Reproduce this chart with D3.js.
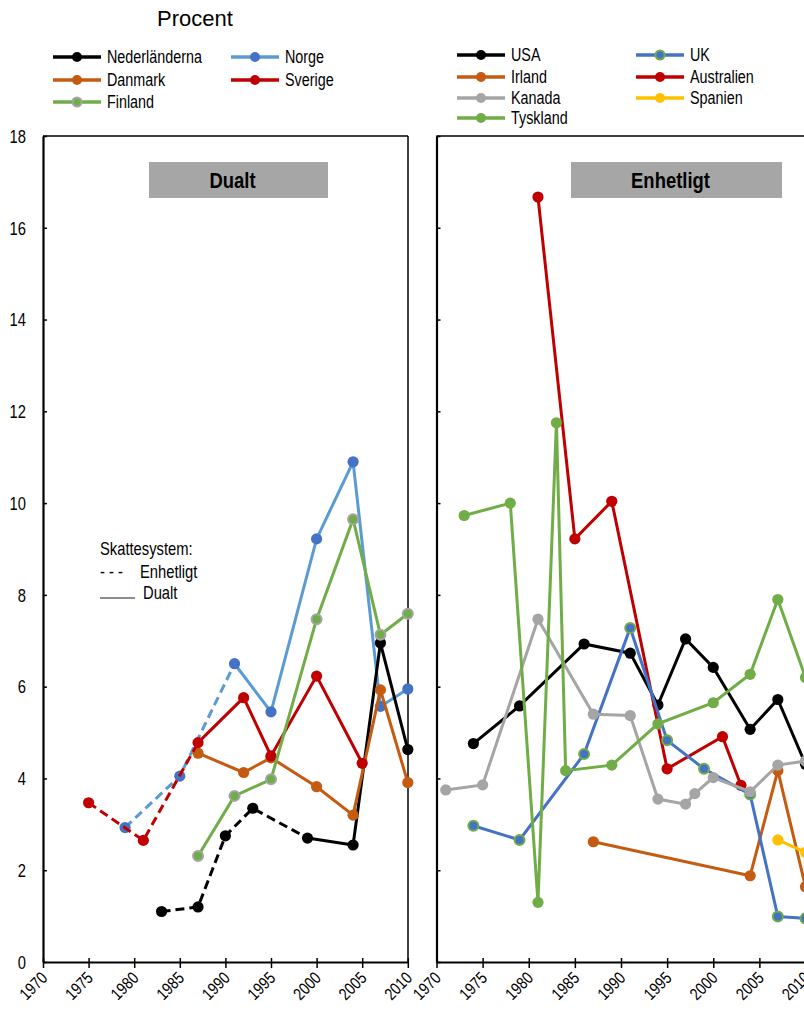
<!DOCTYPE html>
<html>
<head>
<meta charset="utf-8">
<script src="https://cdn.jsdelivr.net/npm/d3@7"></script>
<style>
  html, body { margin: 0; padding: 0; background: #fff; }
  svg { display: block; }
  text { font-family: "Liberation Sans", Arial, sans-serif; fill: #000; }
</style>
</head>
<body>
<svg id="chart" width="804" height="1012"></svg>
<script>
// ---------- DATA ----------
const yTicks = [0, 2, 4, 6, 8, 10, 12, 14, 16, 18];
const xTicks = [1970, 1975, 1980, 1985, 1990, 1995, 2000, 2005, 2010];

// Left panel ("Dualt")
const nedYears   = [1983, 1987, 1990, 1993, 1999, 2004, 2007, 2010];
const nedValues  = [1.1, 1.2, 2.75, 3.35, 2.7, 2.55, 6.95, 4.63];
const nedDashTo  = 1999;

const norYears   = [1979, 1985, 1991, 1995, 2000, 2004, 2007, 2010];
const norValues  = [2.93, 4.05, 6.5, 5.45, 9.22, 10.9, 5.57, 5.95];
const norDashTo  = 1991;

const dkYears    = [1987, 1992, 1995, 2000, 2004, 2007, 2010];
const dkValues   = [4.55, 4.13, 4.45, 3.82, 3.2, 5.93, 3.91];

const seYears    = [1975, 1981, 1987, 1992, 1995, 2000, 2005];
const seValues   = [3.47, 2.65, 4.78, 5.76, 4.49, 6.23, 4.33];
const seDashTo   = 1987;

const fiYears    = [1987, 1991, 1995, 2000, 2004, 2007, 2010];
const fiValues   = [2.31, 3.62, 3.98, 7.47, 9.65, 7.13, 7.59];

// Right panel ("Enhetligt")
const usaYears   = [1974, 1979, 1986, 1991, 1994, 1997, 2000, 2004, 2007, 2010];
const usaValues  = [4.76, 5.58, 6.93, 6.73, 5.6, 7.04, 6.42, 5.07, 5.72, 4.31];

const ukYears    = [1974, 1979, 1986, 1991, 1995, 1999, 2004, 2007, 2010];
const ukValues   = [2.97, 2.66, 4.53, 7.28, 4.83, 4.21, 3.65, 0.99, 0.95];

const ieYears    = [1987, 2004, 2007, 2010];
const ieValues   = [2.62, 1.88, 4.17, 1.64];

const auYears    = [1981, 1985, 1989, 1995, 2001, 2003];
const auValues   = [16.67, 9.22, 10.04, 4.21, 4.91, 3.85];

const caYears    = [1971, 1975, 1981, 1987, 1991, 1994, 1997, 1998, 2000, 2004, 2007, 2010];
const caValues   = [3.75, 3.86, 7.47, 5.4, 5.37, 3.55, 3.44, 3.67, 4.02, 3.71, 4.29, 4.38];

const esYears    = [2007, 2010];
const esValues   = [2.66, 2.39];

const deYears    = [1973, 1978, 1981, 1983, 1984, 1989, 1994, 2000, 2004, 2007, 2010];
const deValues   = [9.73, 10.0, 1.3, 11.75, 4.17, 4.29, 5.19, 5.65, 6.27, 7.9, 6.2];

// Colours
const C = {
  black: "#000000", lightBlue: "#5B9BD5", blue: "#4472C4", orange: "#C55A11",
  red: "#C00000", green: "#70AD47", grey: "#A5A5A5", yellow: "#FFC000"
};

// ---------- SERIES DEFINITIONS ----------
function zip(ys, vs) { return ys.map((y, i) => ({ year: y, v: vs[i] })); }

const leftSeries = [
  { name: "Norge",         data: zip(norYears, norValues), line: C.lightBlue, dot: C.blue,  stroke: null,   dashTo: norDashTo },
  { name: "Nederländerna", data: zip(nedYears, nedValues), line: C.black,     dot: C.black, stroke: null,   dashTo: nedDashTo },
  { name: "Danmark",       data: zip(dkYears, dkValues),   line: C.orange,    dot: C.orange, stroke: null,  dashTo: null },
  { name: "Sverige",       data: zip(seYears, seValues),   line: C.red,       dot: C.red,   stroke: null,   dashTo: seDashTo },
  { name: "Finland",       data: zip(fiYears, fiValues),   line: C.green,     dot: C.green, stroke: C.grey, dashTo: null }
];

const rightSeries = [
  { name: "USA",        data: zip(usaYears, usaValues), line: C.black,  dot: C.black,  stroke: null },
  { name: "Irland",     data: zip(ieYears, ieValues),   line: C.orange, dot: C.orange, stroke: null },
  { name: "Australien", data: zip(auYears, auValues),   line: C.red,    dot: C.red,    stroke: null },
  { name: "UK",         data: zip(ukYears, ukValues),   line: C.blue,   dot: C.blue,   stroke: C.green },
  { name: "Kanada",     data: zip(caYears, caValues),   line: C.grey,   dot: C.grey,   stroke: null },
  { name: "Tyskland",   data: zip(deYears, deValues),   line: C.green,  dot: C.green,  stroke: null },
  { name: "Spanien",    data: zip(esYears, esValues),   line: C.yellow, dot: C.yellow, stroke: null }
];

// ---------- LAYOUT ----------
const SX = 0.82; // horizontal condensing of text (narrow face look)
const svg = d3.select("#chart");
const yTop = 136, yBot = 962;
const y = d3.scaleLinear().domain([0, 18]).range([yBot, yTop]);
const xL = d3.scaleLinear().domain([1970, 2010]).range([43, 407.8]);
const xR = d3.scaleLinear().domain([1970, 2010]).range([436.5, 805.5]);

function ntext(x, yy, str, size, opts = {}) {
  const t = svg.append("text")
    .attr("transform", `translate(${x},${yy}) scale(${SX},1)`)
    .style("font-size", size + "px")
    .text(str);
  if (opts.anchor) t.attr("text-anchor", opts.anchor);
  if (opts.bold) t.style("font-weight", "bold");
  if (opts.dy) t.attr("dy", opts.dy);
  return t;
}

// Title
svg.append("text").attr("x", 157).attr("y", 26).style("font-size", "22px").text("Procent");

// Panel frames
function panelFrame(x, rightEdge) {
  svg.append("line").attr("x1", x.range()[0]).attr("x2", rightEdge)
    .attr("y1", yTop).attr("y2", yTop).attr("stroke", "#000").attr("stroke-width", 1.5);
  if (rightEdge < 800) {
    svg.append("line").attr("x1", rightEdge).attr("x2", rightEdge)
      .attr("y1", yTop).attr("y2", yBot).attr("stroke", "#000").attr("stroke-width", 1.5);
  }
}
panelFrame(xL, 408);
panelFrame(xR, 804);

// Y axes
function yAxis(x, labels) {
  const g = svg.append("g").attr("transform", `translate(${x.range()[0]},0)`);
  const ax = d3.axisRight(y).tickValues(yTicks).tickSize(4).tickSizeOuter(0)
    .tickFormat(labels ? d3.format("d") : "");
  g.call(ax);
  g.select(".domain").attr("stroke", "#000").attr("stroke-width", 2.2);
  g.selectAll(".tick line").attr("stroke", "#000").attr("stroke-width", 1.5);
  g.selectAll(".tick text").attr("x", 0).attr("text-anchor", "end")
    .attr("transform", `translate(-17,0) scale(${SX},1)`)
    .style("font-size", "18px").attr("dy", "0.35em");
}
yAxis(xL, true);
yAxis(xR, false);

// X axes
function xAxis(x) {
  const g = svg.append("g").attr("transform", `translate(0,${yBot})`);
  const ax = d3.axisBottom(x).tickValues(xTicks).tickSize(6).tickSizeOuter(0).tickFormat(d3.format("d"));
  g.call(ax);
  g.select(".domain").attr("stroke", "#000").attr("stroke-width", 2.2);
  g.selectAll(".tick line").attr("stroke", "#000").attr("stroke-width", 1.5).attr("y1", -4).attr("y2", 6);
  g.selectAll(".tick text")
    .attr("x", 0).attr("y", 0).attr("dy", 0)
    .attr("text-anchor", "end")
    .attr("transform", `translate(5,17) rotate(-45) scale(${SX},1)`)
    .style("font-size", "17px");
}
xAxis(xL);
xAxis(xR);

// Header boxes
function headerBox(x0, x1, label) {
  svg.append("rect").attr("x", x0).attr("y", 162).attr("width", x1 - x0).attr("height", 36).attr("fill", "#A6A6A6");
  ntext((x0 + x1) / 2 - 6, 188, label, 22.5, { anchor: "middle", bold: true });
}
headerBox(149, 328, "Dualt");
headerBox(571, 782, "Enhetligt");

// Lines
const lineFor = (x) => d3.line().x(d => x(d.year)).y(d => y(d.v));

function drawSeries(s, x) {
  const gen = lineFor(x);
  const g = svg.append("g");
  if (s.dashTo != null) {
    const dashed = s.data.filter(d => d.year <= s.dashTo);
    const solid = s.data.filter(d => d.year >= s.dashTo);
    g.append("path").attr("d", gen(dashed)).attr("fill", "none").attr("stroke", s.line)
      .attr("stroke-width", 3).attr("stroke-dasharray", "9,5");
    g.append("path").attr("d", gen(solid)).attr("fill", "none").attr("stroke", s.line)
      .attr("stroke-width", 3);
  } else {
    g.append("path").attr("d", gen(s.data)).attr("fill", "none").attr("stroke", s.line)
      .attr("stroke-width", 3);
  }
  g.selectAll("circle").data(s.data).join("circle")
    .attr("cx", d => x(d.year)).attr("cy", d => y(d.v)).attr("r", s.stroke ? 5 : 5.6)
    .attr("fill", s.dot)
    .attr("stroke", s.stroke || "none").attr("stroke-width", s.stroke ? 2 : 0);
}
leftSeries.forEach(s => drawSeries(s, xL));
rightSeries.forEach(s => drawSeries(s, xR));

// Skattesystem note
ntext(100, 555, "Skattesystem:", 18);
ntext(100, 578, "- - -", 18);
ntext(140, 578, "Enhetligt", 18);
svg.append("line").attr("x1", 100).attr("x2", 135).attr("y1", 598).attr("y2", 598)
  .attr("stroke", "#000").attr("stroke-width", 0.9);
ntext(143, 599, "Dualt", 18);

// Legends
function legendItem(x0, yc, s, label) {
  svg.append("line").attr("x1", x0).attr("x2", x0 + 48).attr("y1", yc).attr("y2", yc)
    .attr("stroke", s.line).attr("stroke-width", 3.5);
  svg.append("circle").attr("cx", x0 + 24).attr("cy", yc).attr("r", s.stroke ? 4.5 : 5)
    .attr("fill", s.dot).attr("stroke", s.stroke || "none").attr("stroke-width", s.stroke ? 2 : 0);
  ntext(x0 + 54, yc, label, 17.5, { dy: "0.36em" });
}
const byName = (arr, n) => arr.find(s => s.name === n);
const leftLegend = [
  ["Nederländerna", 53, 57], ["Norge", 231, 57],
  ["Danmark", 53, 80], ["Sverige", 231, 80],
  ["Finland", 53, 102]
];
leftLegend.forEach(([n, lx, ly]) => legendItem(lx, ly, byName(leftSeries, n), n));
const rightLegend = [
  ["USA", 457, 55], ["UK", 636, 55],
  ["Irland", 457, 77], ["Australien", 636, 77],
  ["Kanada", 457, 98], ["Spanien", 636, 98],
  ["Tyskland", 457, 118]
];
rightLegend.forEach(([n, lx, ly]) => legendItem(lx, ly, byName(rightSeries, n), n));
</script>
</body>
</html>
